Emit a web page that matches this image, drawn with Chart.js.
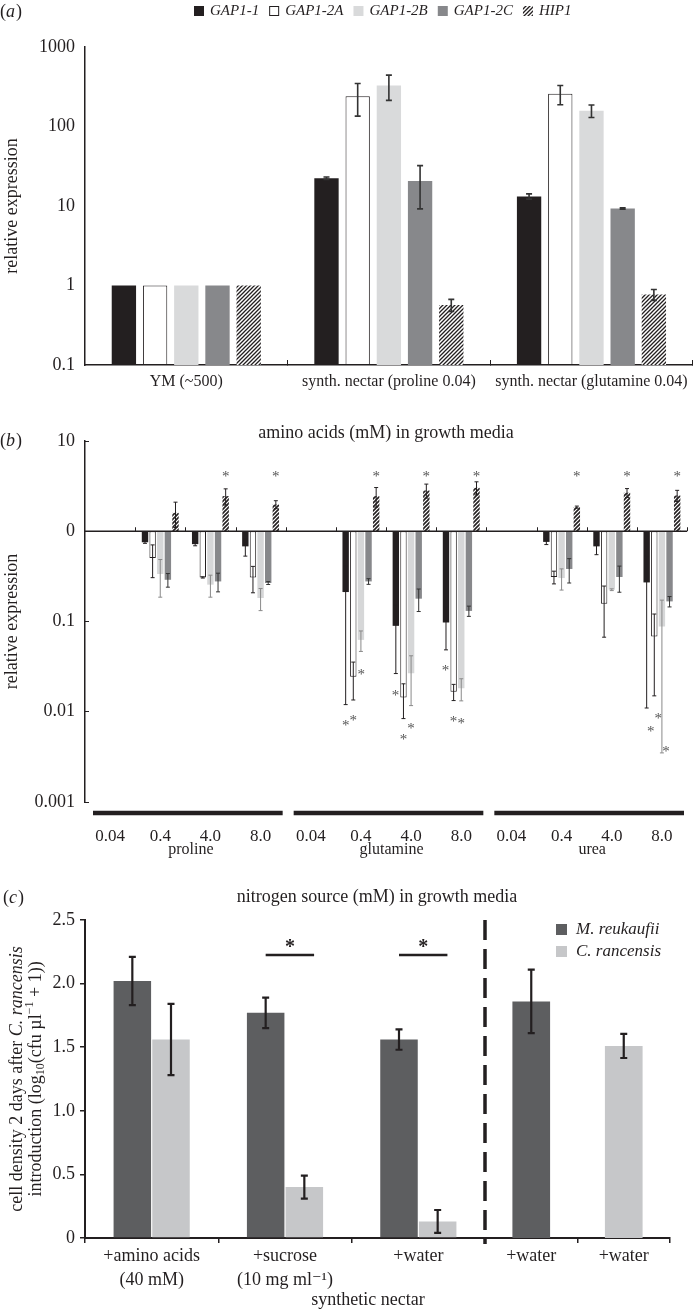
<!DOCTYPE html>
<html>
<head>
<meta charset="utf-8">
<title>GAP1 expresion</title>
<script src="https://cdn.jsdelivr.net/npm/chart.js@4.4.1/dist/chart.umd.min.js"></script>
<style>
body { margin: 0; background: #ffffff; }
#hoja { position: relative; width: 700px; height: 1309px; overflow: hidden; }
#hoja canvas { position: absolute; }
</style>
</head>
<body>
<div id="hoja">
    <canvas id="graficoA" width="700" height="400" style="left:0px;top:0px"></canvas>
    <canvas id="graficoB" width="700" height="470" style="left:0px;top:400px"></canvas>
    <canvas id="graficoC" width="700" height="439" style="left:0px;top:870px"></canvas>
    <canvas id="graficoC2" width="220" height="439" style="left:480px;top:870px"></canvas>
</div>
<script>
var genes = ['GAP1-1', 'GAP1-2A', 'GAP1-2B', 'GAP1-2C', 'HIP1'];

// (a)
var mediosA = ['YM (~500)', 'synth. nectar (proline 0.04)', 'synth. nectar (glutamine 0.04)'];
var ticksA = [0.1, 1, 10, 100, 1000];
var gap11A = [1, 22.4, 13.2];
var gap11AErr = [0, 0.8, 1.0];
var gap12aA = [1, 241, 258];
var gap12aAErr = [0, 106, 70];
var gap12bA = [1, 328, 158];
var gap12bAErr = [0, 115, 28];
var gap12cA = [1, 20.7, 9.3];
var gap12cAErr = [0, 11.5, 0.2];
var hip1A = [1, 0.57, 0.77];
var hip1AErr = [0, 0.1, 0.12];

// (b)
var concB = ['0.04', '0.4', '4.0', '8.0', '0.04', '0.4', '4.0', '8.0', '0.04', '0.4', '4.0', '8.0'];
var fuentesB = ['proline', 'glutamine', 'urea'];
var ticksB = [0.001, 0.01, 0.1, 1, 10];
var gap11B = [1, 0.755, 0.72, 0.68, 1, 0.212, 0.0895, 0.0975, 1, 0.762, 0.68, 0.271];
var gap11BErr = [0, 0.02, 0.03, 0.15, 0, 0.2, 0.063, 0.049, 0, 0.05, 0.13, 0.26];
var gap12aB = [1, 0.506, 0.308, 0.308, 1, 0.0245, 0.0144, 0.0167, 1, 0.311, 0.157, 0.068];
var gap12aBErr = [0, 0.2, 0.005, 0.1, 0, 0.011, 0.006, 0.0034, 0, 0.05, 0.09, 0.053];
var gap12bB = [1, 0.336, 0.256, 0.182, 1, 0.0626, 0.0267, 0.0182, 1, 0.303, 0.225, 0.088];
var gap12bBErr = [0, 0.15, 0.07, 0.05, 0, 0.016, 0.015, 0.005, 0, 0.08, 0.005, 0.0845];
var gap12cB = [1, 0.29, 0.278, 0.267, 1, 0.278, 0.179, 0.131, 1, 0.382, 0.311, 0.167];
var gap12cBErr = [0, 0.05, 0.065, 0.01, 0, 0.02, 0.05, 0.017, 0, 0.115, 0.1, 0.022];
var hip1B = [1, 1.6, 2.45, 1.98, 1, 2.45, 2.83, 3.03, 1, 1.85, 2.67, 2.49];
var hip1BErr = [0, 0.5, 0.5, 0.2, 0, 0.6, 0.5, 0.5, 0, 0.05, 0.3, 0.35];
// [categoria, serie, valor, lado]
var estrellasB = [
    [2, 4, 4.27, 0], [3, 4, 4.27, 0], [5, 4, 4.27, 0], [6, 4, 4.27, 0],
    [7, 4, 4.27, 0], [9, 4, 4.27, 0], [10, 4, 4.27, 0], [11, 4, 4.27, 0],
    [5, 0, 0.0075, 0], [5, 1, 0.0085, 0], [5, 1, 0.0275, 1],
    [6, 1, 0.0161, -1], [6, 1, 0.0052, 0], [6, 2, 0.0069, 0],
    [7, 1, 0.0304, -1], [7, 1, 0.0083, 0], [7, 2, 0.0079, 0],
    [11, 0, 0.0064, 0.5], [11, 1, 0.0089, 0.5], [11, 2, 0.0039, 0.5]
];

// (c)
var tratamientosC = [['+amino acids', '(40 mM)'], ['+sucrose', '(10 mg ml\u207B\u00B9)'], '+water'];
var controlesC = ['+water', '+water'];
var especiesC = ['M. reukaufii', 'C. rancensis'];
var ticksC = [0, 0.5, 1.0, 1.5, 2.0, 2.5];
var reukaufiiC = [2.02, 1.77, 1.56];
var reukaufiiCErr = [0.19, 0.12, 0.08];
var rancensisC = [1.56, 0.40, 0.13];
var rancensisCErr = [0.28, 0.09, 0.09];
var reukaufiiSolo = [1.86, null];
var reukaufiiSoloErr = [0.25, 0];
var rancensisSolo = [null, 1.51];
var rancensisSoloErr = [0, 0.095];
var significativosC = [1, 2];
var nivelSignificanciaC = 2.225;

var serif = "'Liberation Serif', 'DejaVu Serif', serif";
var ink = '#231f20';
Chart.defaults.font.family = serif;
Chart.defaults.color = ink;
Chart.defaults.animation = false;
Chart.defaults.plugins.legend.display = false;
Chart.defaults.plugins.tooltip.enabled = false;

function rayado(tam, grosor) {
    var c = document.createElement('canvas');
    c.width = tam;
    c.height = tam;
    var g = c.getContext('2d');
    g.fillStyle = '#ffffff';
    g.fillRect(0, 0, tam, tam);
    g.strokeStyle = ink;
    g.lineWidth = grosor;
    g.beginPath();
    g.moveTo(0, tam); g.lineTo(tam, 0);
    g.moveTo(-tam / 2, tam / 2); g.lineTo(tam / 2, -tam / 2);
    g.moveTo(tam / 2, tam * 1.5); g.lineTo(tam * 1.5, tam / 2);
    g.stroke();
    return g.createPattern(c, 'repeat');
}

function etiquetaPanel(ctx, letra, x, y) {
    ctx.save();
    ctx.fillStyle = ink;
    ctx.textAlign = 'left';
    ctx.textBaseline = 'middle';
    ctx.font = '18px ' + serif;
    ctx.fillText('(', x, y);
    x += ctx.measureText('(').width;
    ctx.font = 'italic 18px ' + serif;
    ctx.fillText(letra, x, y);
    x += ctx.measureText(letra).width + 1;
    ctx.font = '18px ' + serif;
    ctx.fillText(')', x, y);
    ctx.restore();
}

function textoRico(ctx, trozos, cx, cy) {
    var total = 0;
    trozos.forEach(function (t) { ctx.font = t.f; total += ctx.measureText(t.t).width; });
    var x = cx - total / 2;
    trozos.forEach(function (t) {
        ctx.font = t.f;
        ctx.fillText(t.t, x, cy + (t.dy || 0));
        x += ctx.measureText(t.t).width;
    });
}

var errores = {
    id: 'errores',
    afterDatasetsDraw: function (chart, args, opts) {
        var ctx = chart.ctx;
        var y = chart.scales.y;
        var area = chart.chartArea;
        ctx.save();
        chart.data.datasets.forEach(function (ds, i) {
            if (!ds.errors) { return; }
            var meta = chart.getDatasetMeta(i);
            meta.data.forEach(function (barra, j) {
                var d = ds.data[j];
                var e = ds.errors[j];
                if (d === null || d === undefined || !e) { return; }
                var v = Array.isArray(d) ? d[1] : d;
                var yArriba = Math.max(y.getPixelForValue(v + e), area.top);
                var yAbajo = (v - e) > 0 ? Math.min(y.getPixelForValue(v - e), area.bottom) : area.bottom;
                ctx.strokeStyle = ds.errColor || opts.color;
                ctx.lineWidth = opts.width;
                ctx.beginPath();
                ctx.moveTo(barra.x, yArriba); ctx.lineTo(barra.x, yAbajo);
                ctx.moveTo(barra.x - opts.cap, yArriba); ctx.lineTo(barra.x + opts.cap, yArriba);
                ctx.moveTo(barra.x - opts.cap, yAbajo); ctx.lineTo(barra.x + opts.cap, yAbajo);
                ctx.stroke();
            });
        });
        ctx.restore();
    }
};

function ejeY(ancho) {
    return function (escala) { escala.width = ancho; };
}
function ejeX(alto) {
    return function (escala) { escala.height = alto; };
}
function fijarTicks(valores) {
    return function (escala) {
        escala.ticks = valores.map(function (v) { return { value: v }; });
    };
}

// ---------- (a)
var coloresA = [ink, '#ffffff', '#d9dadb', '#87888b', rayado(4, 1.3)];
var valoresA = [gap11A, gap12aA, gap12bA, gap12cA, hip1A];
var erroresA = [gap11AErr, gap12aAErr, gap12bAErr, gap12cAErr, hip1AErr];

var decoA = {
    id: 'decoA',
    afterDraw: function (chart) {
        var ctx = chart.ctx;
        etiquetaPanel(ctx, 'a', 0, 12);
        ctx.save();
        ctx.font = 'italic 15px ' + serif;
        ctx.textBaseline = 'middle';
        var x = 194;
        chart.data.datasets.forEach(function (ds) {
            ctx.fillStyle = ds.backgroundColor;
            ctx.fillRect(x, 6, 10, 10);
            if (ds.borderWidth) {
                ctx.strokeStyle = ink;
                ctx.lineWidth = 1;
                ctx.strokeRect(x + 0.5, 6.5, 9, 9);
            }
            ctx.fillStyle = ink;
            ctx.fillText(ds.label, x + 16, 11);
            x += 16 + ctx.measureText(ds.label).width + 10;
        });
        ctx.restore();
    }
};

window.graficoA = new Chart(document.getElementById('graficoA').getContext('2d'), {
    type: 'bar',
    data: {
        labels: mediosA,
        datasets: genes.map(function (g, i) {
            return {
                label: g,
                data: valoresA[i],
                errors: erroresA[i],
                backgroundColor: coloresA[i],
                borderColor: ink,
                borderWidth: i === 1 ? 1 : 0,
                borderSkipped: false,
                categoryPercentage: 0.77,
                barPercentage: 0.78
            };
        })
    },
    options: {
        responsive: false,
        layout: { padding: { top: 47, right: 2, left: 0, bottom: 0 } },
        scales: {
            x: {
                grid: { display: true, drawOnChartArea: false, drawTicks: true, tickLength: -5, color: ink, offset: true },
                border: { display: true, color: ink, width: 1.5 },
                ticks: { font: { size: 16 }, padding: 12, maxRotation: 0, autoSkip: false },
                afterFit: ejeX(35)
            },
            y: {
                type: 'logarithmic',
                min: 0.1,
                max: 1000,
                afterBuildTicks: fijarTicks(ticksA),
                grid: { display: true, drawOnChartArea: false, drawTicks: false },
                border: { display: true, color: ink, width: 1.5 },
                ticks: { font: { size: 18 }, padding: 10, callback: function (v) { return String(v); } },
                title: { display: true, text: 'relative expression', font: { size: 18 }, padding: { top: 1, bottom: 0 } },
                afterFit: ejeY(85)
            }
        },
        plugins: { errores: { color: '#333333', width: 1.6, cap: 3 } }
    },
    plugins: [errores, decoA]
});

// ---------- (b)
var coloresB = [ink, '#ffffff', '#d6d7d8', '#87888b', rayado(4, 1.6)];
var colErrB = [ink, ink, '#8a8a8a', '#333333', ink];
var valoresB = [gap11B, gap12aB, gap12bB, gap12cB, hip1B];
var erroresB = [gap11BErr, gap12aBErr, gap12bBErr, gap12cBErr, hip1BErr];

function flotante(vals) {
    return vals.map(function (v) { return [1, v]; });
}

var decoB = {
    id: 'decoB',
    afterDatasetsDraw: function (chart) {
        var ctx = chart.ctx;
        var x = chart.scales.x;
        var y = chart.scales.y;
        var area = chart.chartArea;
        var y0 = y.getPixelForValue(1);
        ctx.save();
        ctx.strokeStyle = ink;
        ctx.lineWidth = 1.5;
        ctx.beginPath();
        ctx.moveTo(area.left, y0);
        ctx.lineTo(area.right, y0);
        ctx.stroke();
        ctx.lineWidth = 1;
        ctx.beginPath();
        for (var i = 1; i <= concB.length; i++) {
            var xb = Math.round(x.getPixelForValue(i - 0.5)) + 0.5;
            ctx.moveTo(xb, y0);
            ctx.lineTo(xb, y0 - 4);
        }
        ctx.stroke();

        ctx.lineWidth = 4.5;
        ctx.fillStyle = ink;
        ctx.font = '16px ' + serif;
        ctx.textAlign = 'center';
        ctx.textBaseline = 'middle';
        fuentesB.forEach(function (f, g) {
            var x1 = x.getPixelForValue(g * 4 - 0.5) + 8;
            var x2 = x.getPixelForValue(g * 4 + 3.5) - 3;
            ctx.beginPath();
            ctx.moveTo(x1, area.bottom + 11);
            ctx.lineTo(x2, area.bottom + 11);
            ctx.stroke();
            ctx.fillText(f, (x1 + x2) / 2 + 3, area.bottom + 48);
        });

        ctx.font = '18px ' + serif;
        ctx.fillText('amino acids (mM) in growth media', (area.left + area.right) / 2, area.top - 8);

        // titulo del eje y
        ctx.save();
        ctx.translate(12, (area.top + area.bottom) / 2);
        ctx.rotate(-Math.PI / 2);
        ctx.fillText('relative expression', 0, 0);
        ctx.restore();

        ctx.font = '15px ' + serif;
        ctx.fillStyle = '#555555';
        ctx.textBaseline = 'alphabetic';
        estrellasB.forEach(function (s) {
            var barra = chart.getDatasetMeta(s[1]).data[s[0]];
            ctx.fillText('*', barra.x + s[3] * 8, y.getPixelForValue(s[2]) + 7);
        });
        ctx.restore();
        etiquetaPanel(ctx, 'b', 0, area.top);
    }
};

window.graficoB = new Chart(document.getElementById('graficoB').getContext('2d'), {
    type: 'bar',
    data: {
        labels: concB,
        datasets: genes.map(function (g, i) {
            return {
                label: g,
                data: flotante(valoresB[i]),
                errors: erroresB[i],
                errColor: colErrB[i],
                backgroundColor: coloresB[i],
                borderColor: ink,
                borderWidth: i === 1 ? 1 : 0,
                borderSkipped: false,
                categoryPercentage: 0.76,
                barPercentage: 0.84
            };
        })
    },
    options: {
        responsive: false,
        layout: { padding: { top: 41, right: 13, left: 0, bottom: 0 } },
        scales: {
            x: {
                grid: { display: false },
                border: { display: false },
                ticks: { font: { size: 17 }, padding: 16, maxRotation: 0, autoSkip: false },
                afterFit: ejeX(68)
            },
            y: {
                type: 'logarithmic',
                min: 0.001,
                max: 10,
                afterBuildTicks: fijarTicks(ticksB),
                grid: { display: true, drawOnChartArea: false, drawTicks: true, tickLength: -4, color: ink },
                border: { display: true, color: ink, width: 1.5 },
                ticks: { font: { size: 18 }, padding: 14, callback: function (v) { return v === 1 ? '0' : String(v); } },
                afterFit: ejeY(85)
            }
        },
        plugins: { errores: { color: ink, width: 1, cap: 2 } }
    },
    plugins: [errores, decoB]
});

// ---------- (c)
var coloresC = ['#5d5e60', '#c6c7c9'];

var decoC = {
    id: 'decoC',
    afterDraw: function (chart) {
        var ctx = chart.ctx;
        var y = chart.scales.y;
        var area = chart.chartArea;
        etiquetaPanel(ctx, 'c', 3, 28);
        ctx.save();
        ctx.fillStyle = ink;
        ctx.textAlign = 'center';
        ctx.textBaseline = 'middle';
        ctx.font = '18px ' + serif;
        ctx.fillText('nitrogen source (mM) in growth media', 377, 27);
        ctx.fillText('synthetic nectar', 368, 430);

        // barras de significancia
        var yS = y.getPixelForValue(nivelSignificanciaC);
        ctx.strokeStyle = ink;
        ctx.lineWidth = 2.5;
        significativosC.forEach(function (k) {
            var a = chart.getDatasetMeta(0).data[k];
            var b = chart.getDatasetMeta(1).data[k];
            var x1 = a.x;
            var x2 = b.x + b.width / 2 - 9;
            ctx.beginPath();
            ctx.moveTo(x1, yS);
            ctx.lineTo(x2, yS);
            ctx.stroke();
            ctx.font = 'bold 20px ' + serif;
            ctx.textBaseline = 'alphabetic';
            ctx.fillText('*', (x1 + x2) / 2, yS - 2);
        });

        // titulo eje y en dos lineas
        ctx.textAlign = 'left';
        ctx.textBaseline = 'middle';
        var cy = (area.top + area.bottom) / 2;
        ctx.translate(17, cy);
        ctx.rotate(-Math.PI / 2);
        textoRico(ctx, [
            { t: 'cell density 2 days after ', f: '18px ' + serif },
            { t: 'C. rancensis', f: 'italic 18px ' + serif }
        ], 0, 0);
        textoRico(ctx, [
            { t: 'introduction (log', f: '18px ' + serif },
            { t: '10', f: '12px ' + serif, dy: 5 },
            { t: '(cfu \u00B5l', f: '18px ' + serif },
            { t: '\u22121', f: '12px ' + serif, dy: -6 },
            { t: ' + 1))', f: '18px ' + serif }
        ], 0, 19);
        ctx.restore();
    }
};

function seriesC(valores, errores, pctCat) {
    return especiesC.map(function (e, i) {
        return {
            label: e,
            data: valores[i],
            errors: errores[i],
            backgroundColor: coloresC[i],
            borderWidth: 0,
            skipNull: true,
            categoryPercentage: pctCat,
            barPercentage: 0.97
        };
    });
}

function ejeXC(alto) {
    return {
        grid: { display: true, drawOnChartArea: false, drawTicks: true, tickLength: 5, color: ink, lineWidth: 1.5, offset: true },
        border: { display: true, color: ink, width: 2 },
        ticks: { font: { size: 18, lineHeight: 1.3 }, padding: 2, maxRotation: 0, autoSkip: false },
        afterFit: ejeX(alto)
    };
}

window.graficoC = new Chart(document.getElementById('graficoC').getContext('2d'), {
    type: 'bar',
    data: {
        labels: tratamientosC,
        datasets: seriesC([reukaufiiC, rancensisC], [reukaufiiCErr, rancensisCErr], 0.58)
    },
    options: {
        responsive: false,
        layout: { padding: { top: 50, right: 215, left: 0, bottom: 0 } },
        scales: {
            x: ejeXC(71),
            y: {
                min: 0,
                max: 2.5,
                afterBuildTicks: fijarTicks(ticksC),
                grid: { display: true, drawOnChartArea: false, drawTicks: true, tickLength: 5, color: ink, lineWidth: 1.5 },
                border: { display: true, color: ink, width: 2 },
                ticks: { font: { size: 18 }, padding: 5, callback: function (v) { return v === 0 ? '0' : v.toFixed(1); } },
                afterFit: ejeY(85)
            }
        },
        plugins: { errores: { color: ink, width: 2.2, cap: 3.5 } }
    },
    plugins: [errores, decoC]
});

var decoC2 = {
    id: 'decoC2',
    afterDraw: function (chart) {
        var ctx = chart.ctx;
        var area = chart.chartArea;
        ctx.save();
        ctx.strokeStyle = ink;
        ctx.lineWidth = 3.5;
        ctx.setLineDash([20, 9]);
        ctx.beginPath();
        ctx.moveTo(area.left, area.top);
        ctx.lineTo(area.left, area.bottom + 6);
        ctx.stroke();
        ctx.setLineDash([]);

        ctx.font = 'italic 17px ' + serif;
        ctx.textBaseline = 'middle';
        especiesC.forEach(function (e, i) {
            var yl = area.top + 10 + i * 22;
            ctx.fillStyle = coloresC[i];
            ctx.fillRect(76, yl - 6, 11, 11);
            ctx.fillStyle = ink;
            ctx.fillText(e, 96, yl);
        });
        ctx.restore();
    }
};

window.graficoC2 = new Chart(document.getElementById('graficoC2').getContext('2d'), {
    type: 'bar',
    data: {
        labels: controlesC,
        datasets: seriesC([reukaufiiSolo, rancensisSolo], [reukaufiiSoloErr, rancensisSoloErr], 0.42)
    },
    options: {
        responsive: false,
        layout: { padding: { top: 50, right: 30, left: 5, bottom: 0 } },
        scales: {
            x: ejeXC(71),
            y: { display: false, min: 0, max: 2.5 }
        },
        plugins: { errores: { color: ink, width: 2.2, cap: 3.5 } }
    },
    plugins: [errores, decoC2]
});
</script>
</body>
</html>
